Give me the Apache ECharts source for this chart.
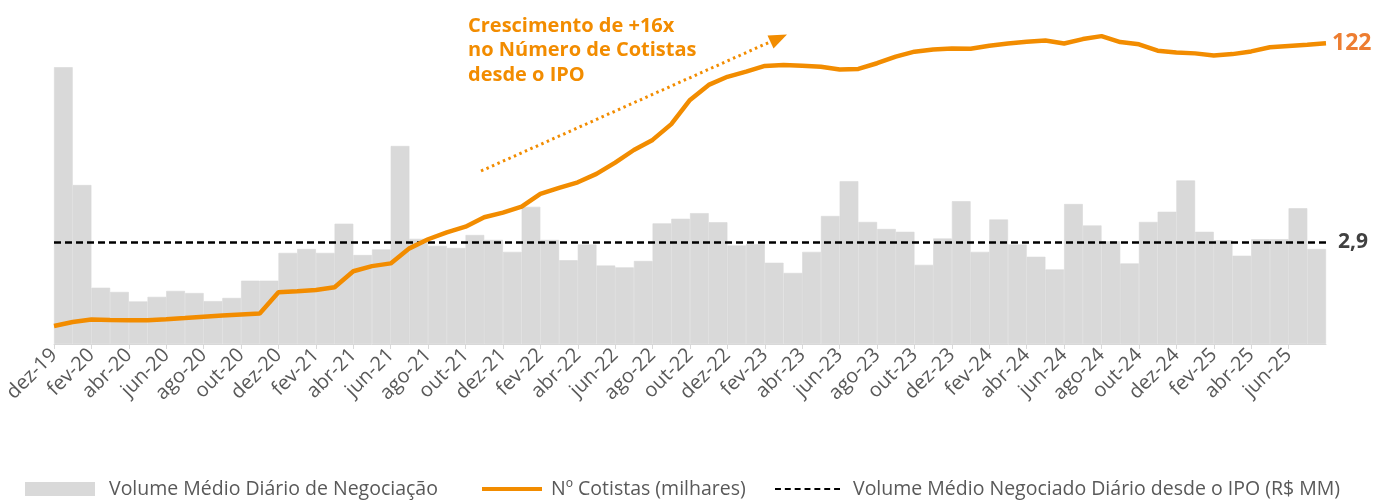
<!DOCTYPE html>
<html>
<head>
<meta charset="utf-8">
<script src="https://cdn.jsdelivr.net/npm/echarts@6/dist/echarts.min.js"></script>
<style>
html,body{margin:0;padding:0;background:#fff;}
#chart{width:1373px;height:501px;}
</style>
</head>
<body>
<div id="chart"></div>
<script>
// Months (one bar per month)
const months = [
  'dez-19',
  'jan-20','fev-20','mar-20','abr-20','mai-20','jun-20','jul-20','ago-20','set-20','out-20','nov-20','dez-20',
  'jan-21','fev-21','mar-21','abr-21','mai-21','jun-21','jul-21','ago-21','set-21','out-21','nov-21','dez-21',
  'jan-22','fev-22','mar-22','abr-22','mai-22','jun-22','jul-22','ago-22','set-22','out-22','nov-22','dez-22',
  'jan-23','fev-23','mar-23','abr-23','mai-23','jun-23','jul-23','ago-23','set-23','out-23','nov-23','dez-23',
  'jan-24','fev-24','mar-24','abr-24','mai-24','jun-24','jul-24','ago-24','set-24','out-24','nov-24','dez-24',
  'jan-25','fev-25','mar-25','abr-25','mai-25','jun-25','jul-25'
];
// Line points sit on the month boundaries (one more point than bars)
const lineCategories = months.concat(['ago-25']);

// Volume Médio Diário de Negociação (R$ MM)
const volume = [
  7.87,
  4.52,1.60,1.48,1.21,1.34,1.51,1.45,1.22,1.31,1.80,1.80,2.59,
  2.70,2.59,3.42,2.53,2.69,5.63,2.99,2.79,2.73,3.10,2.96,2.62,
  3.90,2.96,2.38,2.83,2.23,2.18,2.36,3.43,3.56,3.72,3.46,2.80,
  2.84,2.31,2.02,2.62,3.64,4.63,3.47,3.27,3.19,2.25,3.00,4.06,
  2.62,3.54,2.83,2.48,2.12,3.98,3.37,2.92,2.29,3.47,3.76,4.65,
  3.19,2.95,2.51,2.98,2.98,3.86,2.70
];

// Nº Cotistas (milhares)
const cotistas = [
  7.3,8.9,9.9,9.7,9.6,9.6,10.0,10.5,11.1,11.6,12.0,12.4,
  21.0,21.4,21.9,23.0,29.5,31.6,32.7,38.8,42.5,45.3,
  47.6,51.4,53.3,55.7,60.9,63.3,65.6,69.0,73.6,78.7,82.8,89.2,
  99.0,105.1,108.4,110.5,112.8,113.2,112.9,112.5,111.4,111.6,113.9,116.6,
  118.6,119.5,119.9,119.8,121.0,121.9,122.6,123.1,121.9,123.7,124.9,122.5,
  121.6,119.0,118.3,117.9,117.0,117.6,118.7,120.4,120.9,121.4,122
];

// Volume Médio Negociado Diário desde o IPO (R$ MM)
const avgVolume = 2.9;
const avgLabel = '2,9';

const seriesNames = [
  'Volume Médio Diário de Negociação',
  'Nº Cotistas (milhares)',
  'Volume Médio Negociado Diário desde o IPO (R$ MM)'
];
const annotation = 'Crescimento de +16x\nno Número de Cotistas\ndesde o IPO';

const ORANGE = '#F28C00';
const FONT = '"Open Sans", "Noto Sans", sans-serif';

const chart = echarts.init(document.getElementById('chart'));

const legendText = {fontFamily: FONT, fontSize: 19.5, color: '#595959'};
const dashIcon = 'path://M0,0h6v2h-6z M10,0h6v2h-6z M20,0h6v2h-6z M30,0h6v2h-6z M40,0h6v2h-6z M50,0h6v2h-6z M60,0h6v2h-6z';
const LEGEND_TOP = 474;

chart.setOption({
  animation: false,
  textStyle: {fontFamily: FONT},
  grid: {left: 54, right: 47, top: 20, bottom: 157, containLabel: false},
  xAxis: [
    {
      type: 'category',
      data: months,
      boundaryGap: true,
      show: false
    },
    {
      type: 'category',
      data: lineCategories,
      boundaryGap: false,
      position: 'bottom',
      axisLine: {show: true, lineStyle: {color: '#D9D9D9', width: 1}},
      axisTick: {
        show: true, length: 5,
        interval: function (i) { return i % 2 === 0 && i < months.length; },
        lineStyle: {color: '#D9D9D9'}
      },
      axisLabel: {
        show: true,
        rotate: 45,
        margin: 8,
        interval: function (i) { return i % 2 === 0 && i < months.length; },
        fontSize: 20,
        color: '#595959',
        fontFamily: FONT
      },
      splitLine: {show: false}
    }
  ],
  yAxis: [
    {type: 'value', min: 0, max: 9.212, show: false, splitLine: {show: false}},
    {type: 'value', min: 0, max: 131.44, show: false, splitLine: {show: false}}
  ],
  legend: [
    {
      top: LEGEND_TOP, left: 20, selectedMode: false,
      data: [{name: seriesNames[0], icon: 'rect'}],
      itemWidth: 68, itemHeight: 12,
      textStyle: Object.assign({}, legendText, {padding: [0, 0, 0, 10]})
    },
    {
      top: LEGEND_TOP, left: 477, selectedMode: false,
      data: [{name: seriesNames[1], icon: 'rect'}],
      itemWidth: 60, itemHeight: 4,
      textStyle: Object.assign({}, legendText, {padding: [0, 0, 0, 4]})
    },
    {
      top: LEGEND_TOP, left: 770, selectedMode: false,
      data: [{name: seriesNames[2], icon: dashIcon}],
      itemWidth: 65, itemHeight: 2.5,
      textStyle: Object.assign({}, legendText, {padding: [0, 0, 0, 8]})
    }
  ],
  series: [
    {
      name: seriesNames[0],
      type: 'bar',
      xAxisIndex: 0,
      yAxisIndex: 0,
      data: volume,
      barCategoryGap: '0%',
      itemStyle: {color: '#D9D9D9', borderColor: '#D9D9D9', borderWidth: 0.6},
      z: 1,
      markLine: {
        silent: true,
        symbol: 'none',
        z: 3,
        lineStyle: {color: '#000', type: [7, 4], width: 2.5},
        label: {
          show: true,
          position: 'end',
          distance: 12,
          formatter: avgLabel,
          fontSize: 21,
          fontWeight: 'bold',
          color: '#404040',
          fontFamily: FONT
        },
        data: [{yAxis: avgVolume}]
      }
    },
    {
      name: seriesNames[1],
      type: 'line',
      xAxisIndex: 1,
      yAxisIndex: 1,
      data: cotistas,
      symbol: 'none',
      z: 5,
      lineStyle: {color: ORANGE, width: 4.5},
      itemStyle: {color: ORANGE},
      endLabel: {
        show: true,
        formatter: function (p) { return String(p.value); },
        distance: 6,
        fontSize: 23,
        fontWeight: 'bold',
        color: '#ED7D31',
        fontFamily: FONT
      }
    },
    {
      name: seriesNames[2],
      type: 'line',
      xAxisIndex: 1,
      yAxisIndex: 1,
      data: [],
      symbol: 'none',
      lineStyle: {color: '#000', type: [3, 2], width: 2},
      itemStyle: {color: '#000'}
    }
  ],
  graphic: [
    {
      type: 'text',
      left: 468,
      top: 14,
      z: 10,
      style: {
        text: annotation,
        font: 'bold 20px ' + FONT,
        lineHeight: 24.5,
        fill: ORANGE
      }
    },
    {
      type: 'line',
      z: 10,
      shape: {x1: 481, y1: 171, x2: 771, y2: 41.5},
      style: {stroke: ORANGE, lineWidth: 3, lineDash: [2.5, 3.5]}
    },
    {
      type: 'polygon',
      z: 10,
      shape: {points: [[787, 34.5], [767.5, 35.5], [773.5, 48.5]]},
      style: {fill: ORANGE}
    }
  ]
});
</script>
</body>
</html>
